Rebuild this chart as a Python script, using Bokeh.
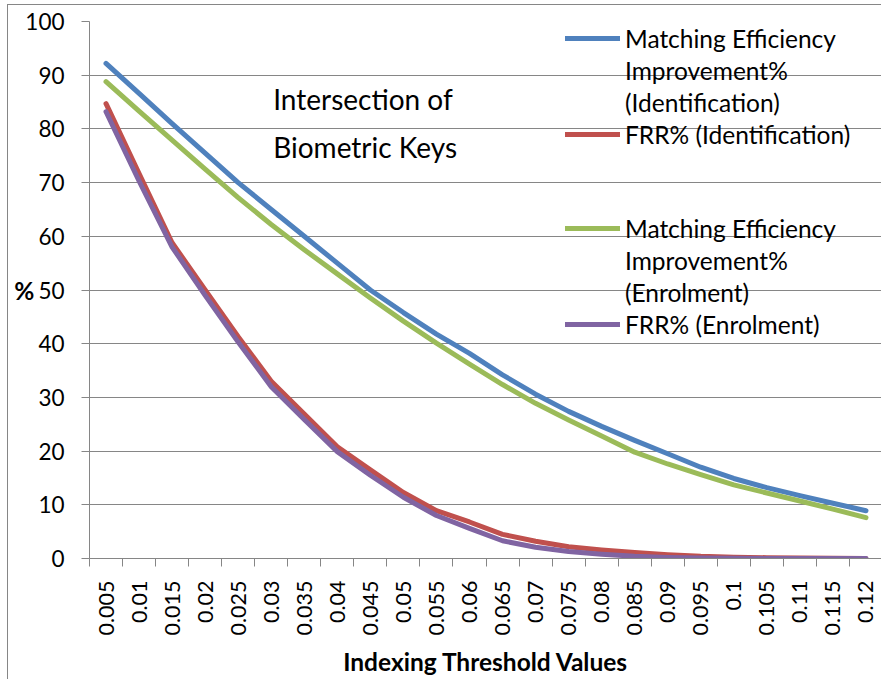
import math
from bokeh.plotting import figure
from bokeh.models import Range1d, FixedTicker, Legend, LegendItem, Label
from bokeh.embed import file_html
from bokeh.resources import INLINE

# ---------------- data ----------------
categories = ["0.005", "0.01", "0.015", "0.02", "0.025", "0.03", "0.035", "0.04",
              "0.045", "0.05", "0.055", "0.06", "0.065", "0.07", "0.075", "0.08",
              "0.085", "0.09", "0.095", "0.1", "0.105", "0.11", "0.115", "0.12"]

eff_identification = [92.2, 86.6, 81.0, 75.5, 70.0, 65.0, 60.0, 55.0, 50.0, 45.8, 41.8, 38.2,
                      34.2, 30.6, 27.4, 24.6, 22.0, 19.5, 17.0, 14.9, 13.2, 11.7, 10.3, 8.9]
frr_identification = [84.7, 71.7, 58.8, 50.0, 41.3, 33.0, 26.9, 20.8, 16.5, 12.3, 8.9, 6.8,
                      4.5, 3.2, 2.2, 1.6, 1.1, 0.7, 0.4, 0.25, 0.15, 0.1, 0.05, 0.0]
eff_enrolment = [88.8, 83.3, 77.9, 72.5, 67.2, 62.2, 57.5, 53.0, 48.5, 44.2, 40.1, 36.2,
                 32.4, 28.9, 25.8, 22.8, 19.8, 17.6, 15.6, 13.7, 12.2, 10.7, 9.2, 7.6]
frr_enrolment = [83.2, 70.3, 58.0, 49.0, 40.3, 32.0, 25.9, 19.9, 15.5, 11.4, 8.0, 5.6,
                 3.3, 2.1, 1.3, 0.8, 0.4, 0.2, 0.1, 0.05, 0.0, 0.0, 0.0, 0.0]

# legend entries, one list of text lines per series (Excel wraps them)
series_label_lines = [["Matching Efficiency", "Improvement%", "(Identification)"],
                      ["FRR% (Identification)"],
                      ["Matching Efficiency", "Improvement%", "(Enrolment)"],
                      ["FRR% (Enrolment)"]]
y_ticks = list(range(0, 101, 10))
annotation_lines = ["Intersection of", "Biometric Keys"]

# ---------------- style ----------------
FONT = "Lato"
GRAY = "#868686"
COLORS = ["#4F81BD", "#C0504D", "#9BBB59", "#8064A2"]

x = list(range(len(categories)))

p = figure(width=874, height=675, output_backend="svg", toolbar_location=None,
           x_range=Range1d(-0.5, len(categories) - 0.5), y_range=Range1d(0, 100),
           min_border_left=81, min_border_right=0, min_border_top=16, min_border_bottom=122,
           styles={"border-left": "1px solid #868686", "border-top": "1px solid #868686",
                   "margin-left": "7px", "margin-top": "4px"})

p.outline_line_color = None
p.background_fill_color = "white"
p.border_fill_color = "white"

# grid
p.xgrid.grid_line_color = None
p.ygrid.grid_line_color = GRAY
p.ygrid.grid_line_width = 1.2
p.ygrid.ticker = FixedTicker(ticks=y_ticks)

# y axis
p.yaxis.ticker = FixedTicker(ticks=y_ticks)
p.yaxis.axis_line_color = GRAY
p.yaxis.major_tick_line_color = GRAY
p.yaxis.major_tick_out = 8
p.yaxis.major_tick_in = 0
p.yaxis.minor_tick_line_color = None
p.yaxis.major_label_standoff = 17
p.yaxis.major_label_text_font_size = "22.5px"
p.yaxis.axis_label = "%"
p.yaxis.axis_label_orientation = "horizontal"
p.yaxis.axis_label_standoff = -12
p.yaxis.axis_label_text_font_style = "bold"

# x axis
p.xaxis.ticker = FixedTicker(ticks=x, minor_ticks=[i - 0.5 for i in range(len(categories) + 1)])
p.xaxis.major_label_overrides = {i: c for i, c in zip(x, categories)}
p.xaxis.major_label_orientation = math.pi / 2
p.xaxis.axis_line_color = GRAY
p.xaxis.major_tick_line_color = None
p.xaxis.major_tick_out = 0
p.xaxis.major_tick_in = 0
p.xaxis.minor_tick_line_color = GRAY
p.xaxis.minor_tick_out = 8
p.xaxis.minor_tick_in = 0
p.xaxis.major_label_standoff = 14
p.xaxis.major_label_text_font_size = "21.5px"
p.xaxis.axis_label = "Indexing Threshold Values"
p.xaxis.axis_label_standoff = 9
p.xaxis.axis_label_text_font_style = "bold"

for ax in (p.xaxis[0], p.yaxis[0]):
    ax.major_label_text_font = FONT
    ax.major_label_text_color = "black"
    ax.axis_label_text_font = FONT
    ax.axis_label_text_font_size = "24.5px"
    ax.axis_label_text_color = "black"

# lines
renderers = []
for vals, col in zip([eff_identification, frr_identification, eff_enrolment, frr_enrolment], COLORS):
    r = p.line(x, vals, line_color=col, line_width=5, line_cap="round", line_join="round")
    renderers.append(r)


def legend_items(series_idx):
    items = []
    for k in series_idx:
        lines = series_label_lines[k]
        items.append(LegendItem(label=lines[0], renderers=[renderers[k]]))
        for extra in lines[1:]:
            items.append(LegendItem(label=extra, renderers=[]))
    return items


def make_legend(items, loc):
    lg = Legend(items=items, location=loc)
    lg.border_line_color = None
    lg.background_fill_alpha = 0
    lg.padding = 0
    lg.margin = 0
    lg.spacing = 0
    lg.glyph_width = 55
    lg.glyph_height = 32
    lg.label_height = 32
    lg.label_standoff = 5
    lg.label_text_font = FONT
    lg.label_text_font_size = "24.5px"
    lg.label_text_color = "black"
    return lg


p.add_layout(make_legend(legend_items([0, 1]), (476, 408)))
p.add_layout(make_legend(legend_items([2, 3]), (476, 218)))

# annotation text
for txt, yy in zip(annotation_lines, [85.5, 76.6]):
    p.add_layout(Label(x=5.06, y=yy, text=txt, text_font=FONT, text_font_size="28px",
                       text_color="black", text_baseline="middle", text_align="left"))

open("out.html", "w").write(file_html(p, INLINE))
